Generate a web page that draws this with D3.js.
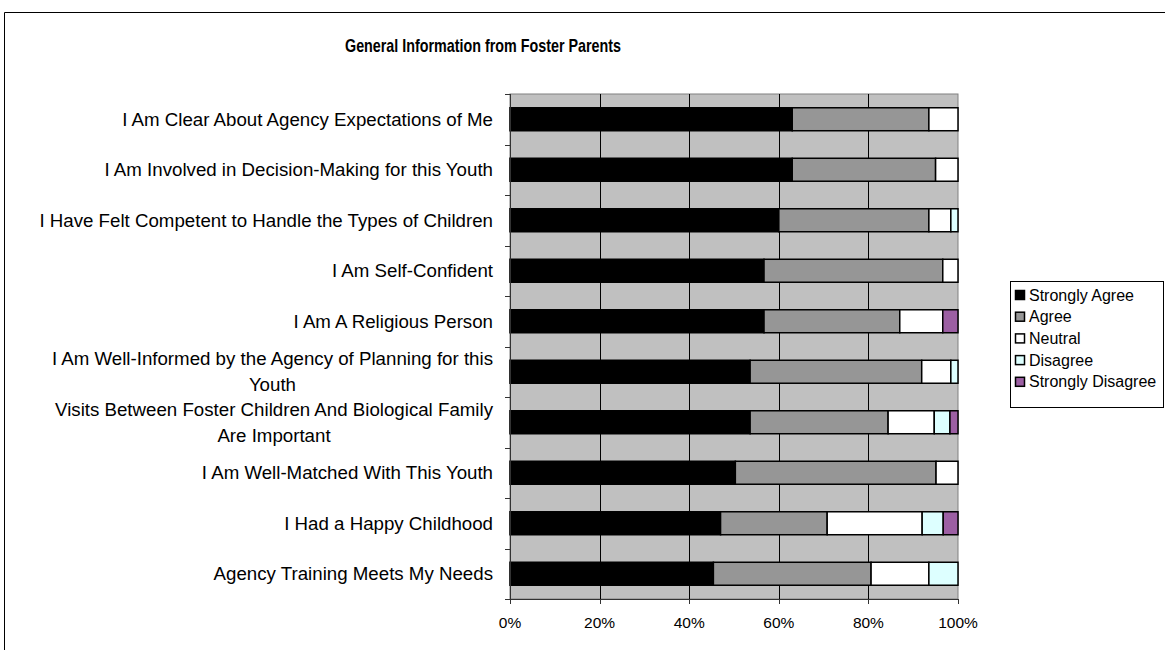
<!DOCTYPE html>
<html>
<head>
<meta charset="utf-8">
<script src="https://cdn.jsdelivr.net/npm/d3@7"></script>
<style>
  body { margin: 0; background: #fff; }
  text { font-family: "Liberation Sans", Arial, sans-serif; }
</style>
</head>
<body>
<div id="chart"></div>
<script>
const width = 1165
const height = 650
const plot = {left: 510, right: 958, top: 94, bottom: 599}

const categories = [
    "I Am Clear About Agency Expectations of Me",
    "I Am Involved in Decision-Making for this Youth",
    "I Have Felt Competent to Handle the Types of Children",
    "I Am Self-Confident",
    "I Am A Religious Person",
    "I Am Well-Informed by the Agency of Planning for this Youth",
    "Visits Between Foster Children And Biological Family Are Important",
    "I Am Well-Matched With This Youth",
    "I Had a Happy Childhood",
    "Agency Training Meets My Needs"
]
const seriesNames = ["Strongly Agree", "Agree", "Neutral", "Disagree", "Strongly Disagree"]
const seriesColors = ["#000000", "#969696", "#ffffff", "#ddffff", "#9c5fa3"]

// valores en %
const strongAgree    = [63.0, 63.0, 60.0, 56.7, 56.7, 53.6, 53.6, 50.3, 47.0, 45.4]
const agree          = [30.5, 32.0, 33.5, 39.9, 30.3, 38.3, 30.8, 44.8, 23.8, 35.2]
const neutral        = [6.5, 5.0, 4.9, 3.4, 9.6, 6.5, 10.3, 4.9, 21.2, 12.9]
const disagree       = [0, 0, 1.6, 0, 0, 1.6, 3.5, 0, 4.7, 6.5]
const strongDisagree = [0, 0, 0, 0, 3.4, 0, 1.8, 0, 3.3, 0]
const xTicks = [0, 20, 40, 60, 80, 100]

const rows = categories.map((c, i) => ({
    category: c,
    "Strongly Agree": strongAgree[i],
    "Agree": agree[i],
    "Neutral": neutral[i],
    "Disagree": disagree[i],
    "Strongly Disagree": strongDisagree[i]
}))

const svg = d3.select("#chart").append("svg").attr("width", width).attr("height", height)

// marco exterior del grafico
svg.append("path")
    .attr("d", `M4.5,${height} L4.5,12.5 L${width},12.5`)
    .attr("fill", "none").attr("stroke", "#000").attr("stroke-width", 1)

svg.append("text")
    .attr("x", 483).attr("y", 52)
    .attr("text-anchor", "middle")
    .attr("font-size", 18.5).attr("font-weight", "bold")
    .attr("textLength", 276).attr("lengthAdjust", "spacingAndGlyphs")
    .text("General Information from Foster Parents")

const x = d3.scaleLinear().domain([0, 100]).range([plot.left, plot.right])
const y = d3.scaleBand().domain(categories).range([plot.top, plot.bottom])
    .paddingInner(0.545).paddingOuter(0.2725)

// fondo gris del area de trazado
svg.append("rect")
    .attr("x", plot.left).attr("y", plot.top)
    .attr("width", plot.right - plot.left).attr("height", plot.bottom - plot.top)
    .attr("fill", "#c0c0c0").attr("stroke", "#808080").attr("stroke-width", 1)

svg.append("g").selectAll("line")
    .data(xTicks.slice(1, -1))
    .join("line")
    .attr("x1", d => Math.round(x(d)) + 0.5).attr("x2", d => Math.round(x(d)) + 0.5)
    .attr("y1", plot.top).attr("y2", plot.bottom)
    .attr("stroke", "#000").attr("stroke-width", 1)

const stack = d3.stack().keys(seriesNames)
const series = stack(rows)

svg.append("g").selectAll("g")
    .data(series)
    .join("g")
    .attr("fill", (d, i) => seriesColors[i])
    .selectAll("rect")
    .data(d => d.filter(s => s[1] - s[0] > 0))
    .join("rect")
    .attr("x", d => x(d[0]))
    .attr("y", d => y(d.data.category))
    .attr("width", d => x(d[1]) - x(d[0]))
    .attr("height", y.bandwidth())
    .attr("stroke", "#000").attr("stroke-width", 1.5)

// ejes
const axisColor = "#333"
const step = y.step()
const boundaries = d3.range(categories.length + 1).map(i => plot.top + i * step)
svg.append("line")
    .attr("x1", plot.left + 0.5).attr("x2", plot.left + 0.5)
    .attr("y1", plot.top).attr("y2", plot.bottom)
    .attr("stroke", axisColor)
svg.append("g").selectAll("line")
    .data(boundaries)
    .join("line")
    .attr("x1", plot.left - 5).attr("x2", plot.left)
    .attr("y1", d => Math.round(d) + 0.5).attr("y2", d => Math.round(d) + 0.5)
    .attr("stroke", axisColor)

svg.append("line")
    .attr("x1", plot.left).attr("x2", plot.right)
    .attr("y1", plot.bottom + 0.5).attr("y2", plot.bottom + 0.5)
    .attr("stroke", axisColor)
svg.append("g").selectAll("line")
    .data(xTicks)
    .join("line")
    .attr("x1", d => Math.round(x(d)) + 0.5).attr("x2", d => Math.round(x(d)) + 0.5)
    .attr("y1", plot.bottom).attr("y2", plot.bottom + 5)
    .attr("stroke", axisColor)
svg.append("g").selectAll("text")
    .data(xTicks)
    .join("text")
    .attr("x", d => x(d)).attr("y", plot.bottom + 29)
    .attr("text-anchor", "middle")
    .attr("font-size", 15.5)
    .text(d => d + "%")

// etiquetas de categorias: se parten en lineas y cada linea va centrada en su bloque
const labelRight = 493
const labelSize = 18.7
const lineHeight = 26
const labels = svg.append("g").selectAll("text")
    .data(categories)
    .join("text")
    .attr("text-anchor", "middle")
    .attr("font-size", labelSize)

labels.each(function(d){
    const t = d3.select(this)
    const words = d.split(" ")
    let lines = [[]]
    words.forEach(w => {
        const cur = lines[lines.length - 1]
        t.text(cur.concat(w).join(" "))
        if (this.getComputedTextLength() > 462 && cur.length > 0) lines.push([w])
        else cur.push(w)
    })
    const widths = lines.map(l => { t.text(l.join(" ")); return this.getComputedTextLength() })
    const blockW = d3.max(widths)
    t.text(null)
    const cy = y(d) + y.bandwidth() / 2 - (lines.length - 1) * lineHeight / 2
    lines.forEach((l, i) => {
        t.append("tspan")
            .attr("x", labelRight - blockW / 2)
            .attr("y", cy + i * lineHeight + labelSize * 0.35)
            .text(l.join(" "))
    })
})

// leyenda
const legend = svg.append("g")
legend.append("rect")
    .attr("x", 1010.5).attr("y", 281.5).attr("width", 153).attr("height", 126)
    .attr("fill", "#fff").attr("stroke", "#000")
const items = legend.selectAll("g")
    .data(seriesNames)
    .join("g")
    .attr("transform", (d, i) => `translate(1015, ${295 + i * 21.7})`)
items.append("rect")
    .attr("width", 9).attr("height", 9).attr("x", 0.5).attr("y", -4.5)
    .attr("fill", (d, i) => seriesColors[i])
    .attr("stroke", "#000").attr("stroke-width", 1.5)
items.append("text")
    .attr("x", 14).attr("y", 5.5)
    .attr("font-size", 16)
    .text(d => d)
</script>
</body>
</html>
